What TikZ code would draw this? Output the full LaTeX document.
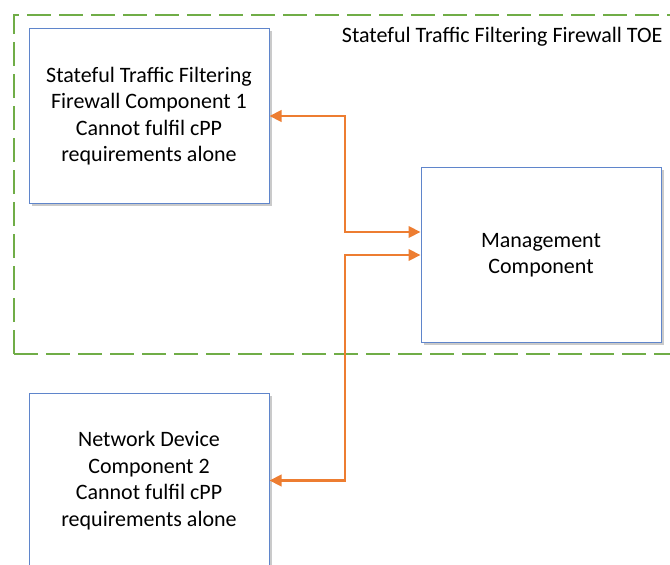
\documentclass[tikz,border=0pt]{standalone}
\usepackage{fontspec}
\setmainfont{Carlito}
\usetikzlibrary{arrows.meta,shadows}
\definecolor{boxblue}{RGB}{95,133,203}
\definecolor{arrorange}{RGB}{237,125,49}
\definecolor{toegreen}{RGB}{112,173,71}
\tikzset{
  comp/.style={draw=boxblue, line width=1pt, fill=white, minimum width=240pt, minimum height=175pt,
    align=center, inner sep=0pt, font=\fontsize{22}{26.5}\selectfont,
    drop shadow={shadow xshift=2.5pt, shadow yshift=-2.5pt, opacity=0.35, fill=black!60}},
  link/.style={draw=arrorange, line width=2.2pt, {Triangle[length=12pt,width=11.5pt]}-{Triangle[length=12pt,width=11.5pt]}},
  toe/.style={draw=toegreen, line width=2.6pt, dash pattern=on 24pt off 8pt}
}
\begin{document}
\begin{tikzpicture}[x=1pt,y=-1pt]
\useasboundingbox (0,0) rectangle (670,565);
\clip (0,0) rectangle (670,565);
\draw[toe] (14,354) -- (14,15) -- (690,15);
\draw[toe] (14,354) -- (690,354);
\node[font=\fontsize{22}{26}\selectfont, anchor=east] (title) at (666,37) {Stateful Traffic Filtering Firewall TOE};
\node[comp] (c1) at (149,116) {\raisebox{-2pt}{\parbox{240pt}{\centering Stateful Traffic Filtering\\Firewall Component 1\\Cannot fulfil cPP\\requirements alone}}};
\node[comp] (mg) at (541,255) {Management\\Component};
\node[comp] (c2) at (149,480.5) {Network Device\\Component 2\\Cannot fulfil cPP\\requirements alone};
\draw[link] (c1.east) -| (345,200) |- (mg.west |- 0,232);
\draw[link] (c2.east) -| (345,300) |- (mg.west |- 0,255);
\end{tikzpicture}
\end{document}
